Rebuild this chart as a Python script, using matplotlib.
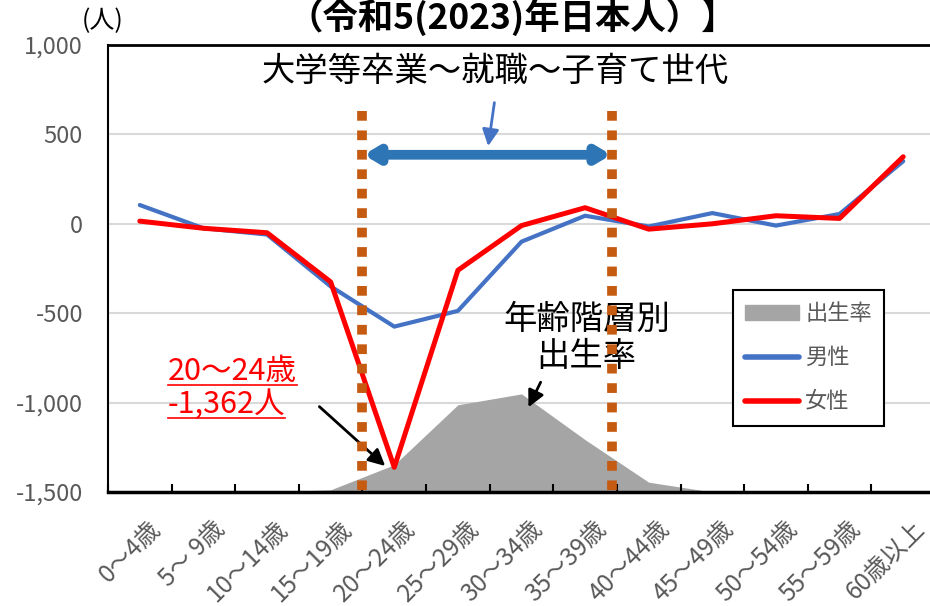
import numpy as np
import matplotlib.pyplot as plt
from matplotlib.patches import Patch
from matplotlib.lines import Line2D
from matplotlib.ticker import FuncFormatter
from matplotlib.transforms import ScaledTranslation

plt.rcParams['font.family'] = ['Noto Sans CJK JP', 'DejaVu Sans']

# data
ages = ['0～4歳', '5～ 9歳', '10～14歳', '15～19歳', '20～24歳', '25～29歳', '30～34歳',
        '35～39歳', '40～44歳', '45～49歳', '50～54歳', '55～59歳', '60歳以上']
male = [105, -25, -60, -350, -575, -487, -100, 45, -15, 60, -10, 55, 350]
female = [15, -25, -50, -325, -1362, -260, -10, 90, -30, 0, 45, 30, 375]
birth_rate = [0, 0, 0, 2, 25, 80, 90, 48, 9, 0, 0, 0, 0]  # per 1,000 women (shape only)
yticks = [-1500, -1000, -500, 0, 500, 1000]

x = np.arange(len(ages))
gray = '#595959'

fig = plt.figure(figsize=(9.3, 6.06), dpi=100)
pos = [108/930, 1-492/606, 827/930, 447/606]

# background grid
ax_grid = fig.add_axes(pos, zorder=0)
ax_grid.set_xlim(-0.5, 12.5)
ax_grid.set_ylim(-1500, 1000)
for yv in yticks[1:-1]:
    ax_grid.axhline(yv, color='#D9D9D9', lw=1.5)
ax_grid.axis('off')

# birth rate area on its own hidden scale
ax_rate = fig.add_axes(pos, zorder=1)
ax_rate.fill_between(x, 0, birth_rate, color='#A5A5A5', lw=0)
ax_rate.set_xlim(-0.5, 12.5)
ax_rate.set_ylim(0, 410)
ax_rate.axis('off')

# main axes
ax = fig.add_axes(pos, zorder=2)
ax.patch.set_visible(False)
ax.plot(x, male, color='#4472C4', lw=3, solid_joinstyle='round', solid_capstyle='round')
ax.plot(x, female, color='#FF0000', lw=3.6, solid_joinstyle='round', solid_capstyle='round')

# dotted generation markers
for xv in [3.5, 7.43]:
    ax.plot([xv, xv], [630, -1520], color='#C55A11', lw=7, linestyle=(0, (1, 1)),
            dash_capstyle='butt', clip_on=False, zorder=5)

ax.set_xlim(-0.5, 12.5)
ax.set_ylim(-1500, 1000)
ax.set_yticks(yticks)
ax.yaxis.set_major_formatter(FuncFormatter(lambda v, p: f'{int(v):,}'))
ax.tick_params(axis='y', length=0, pad=18, labelsize=17, labelcolor=gray)
ax.set_xticks(x)
ax.set_xticklabels(ages, rotation=45, ha='right', rotation_mode='anchor', fontsize=17.5, color=gray)
ax.tick_params(axis='x', which='major', length=0, pad=17)
shift = ScaledTranslation(8/100, 0, fig.dpi_scale_trans)
for lbl in ax.get_xticklabels():
    lbl.set_transform(lbl.get_transform() + shift)
ax.set_xticks(np.arange(-0.5, 13, 1), minor=True)
ax.tick_params(axis='x', which='minor', direction='in', length=6, width=1.5, color='black')
ax.spines['right'].set_visible(False)
ax.spines['left'].set_linewidth(1.5)
ax.spines['bottom'].set_linewidth(2.5)
ax.spines['top'].set_linewidth(2)

# annotations
ax.text(5.58, 850, '大学等卒業～就職～子育て世代', ha='center', va='center', fontsize=24)
ax.annotate('', xy=(5.47, 419), xytext=(5.58, 693),
            arrowprops=dict(arrowstyle='-|>', color='#4472C4', lw=2, mutation_scale=25))
ax.annotate('', xy=(3.52, 386), xytext=(7.41, 386),
            arrowprops=dict(arrowstyle='<|-|>, head_length=0.5, head_width=0.3',
                            color='#2E75B6', lw=7, mutation_scale=15,
                            shrinkA=0, shrinkB=0))

ax.text(7.02, -638, '年齢階層別\n出生率', ha='center', va='center', fontsize=24, linespacing=1.05)
ax.annotate('', xy=(6.09, -1040), xytext=(6.32, -872),
            arrowprops=dict(arrowstyle='-|>', color='black', lw=2, mutation_scale=25))

t1 = ax.text(0.44, -828, '20～24歳', color='red', fontsize=22, va='center')
t2 = ax.text(0.44, -1012, '-1,362人', color='red', fontsize=22, va='center')
ax.annotate('', xy=(3.89, -1365), xytext=(2.79, -1012),
            arrowprops=dict(arrowstyle='-|>', color='black', lw=2, mutation_scale=25))

handles = [Patch(color='#A5A5A5'),
           Line2D([], [], color='#4472C4', lw=4, solid_capstyle='round'),
           Line2D([], [], color='#FF0000', lw=4, solid_capstyle='round')]
leg = ax.legend(handles, ['出生率', '男性', '女性'], loc='upper left',
                bbox_to_anchor=(0.7557, 0.4519), borderaxespad=0, fontsize=16,
                labelcolor=gray, fancybox=False, edgecolor='black', framealpha=1,
                handlelength=2.4, labelspacing=0.95, handletextpad=0.3,
                borderpad=0.55)
leg.get_frame().set_linewidth(1.5)

fig.text(512/930, 1-17/606, '（令和5(2023)年日本人）】', ha='center', va='center',
         fontsize=25.5, fontweight='bold')
fig.text(103/930, 1-21/606, '(人)', ha='center', va='center', fontsize=18)

# underline the red callout
fig.canvas.draw()
for t in [t1, t2]:
    bb = t.get_window_extent()
    fig.add_artist(Line2D([bb.x0, bb.x1], [bb.y0 + 2, bb.y0 + 2], color='red', lw=1.2,
                          transform=None))

fig.savefig('out.png', dpi=100)
